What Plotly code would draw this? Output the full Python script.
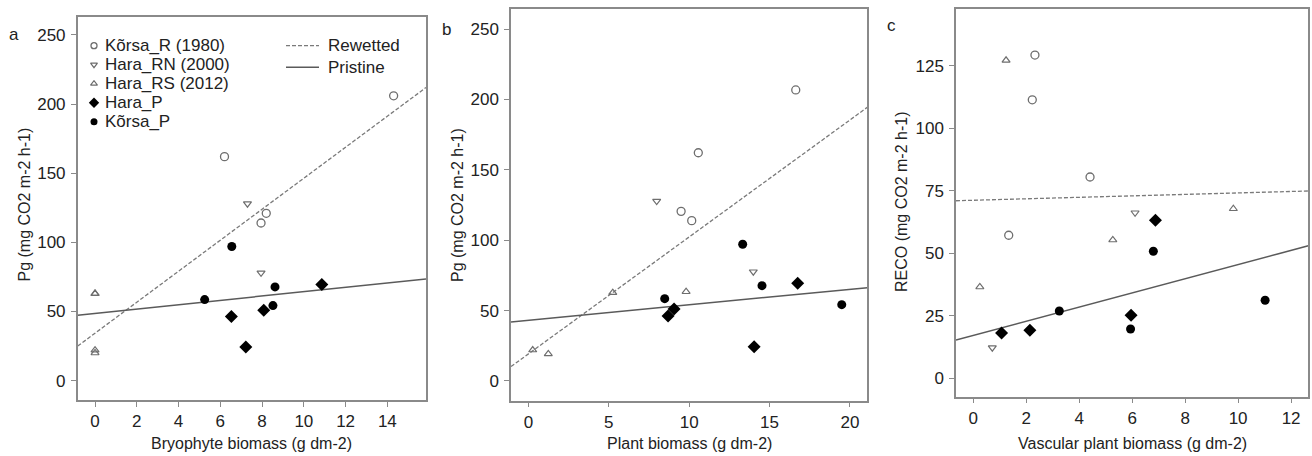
import plotly.graph_objects as go

# ---------------- data ----------------
series_names = ["Kõrsa_R (1980)", "Hara_RN (2000)", "Hara_RS (2012)", "Hara_P", "Kõrsa_P"]
line_names = ["Rewetted", "Pristine"]

# Panel a: Bryophyte biomass vs Pg
a_korsa_r_x = [14.3, 6.2, 8.2, 7.95]
a_korsa_r_y = [206, 162, 121, 114]
a_hara_rn_x = [7.3, 7.95]
a_hara_rn_y = [128, 78]
a_hara_rs_x = [0, 0, 0, 0]
a_hara_rs_y = [63, 63, 22, 20]
a_hara_p_x = [6.53, 7.22, 8.08, 10.86]
a_hara_p_y = [46.3, 24.4, 50.9, 69.5]
a_korsa_p_x = [6.55, 5.25, 8.62, 8.52]
a_korsa_p_y = [97, 58.6, 67.8, 54.3]

# Panel b: Plant biomass vs Pg
b_korsa_r_x = [16.63, 10.57, 9.50, 10.16]
b_korsa_r_y = [206.7, 162.1, 120.5, 113.9]
b_hara_rn_x = [7.98, 13.99]
b_hara_rn_y = [127.8, 77.6]
b_hara_rs_x = [0.27, 1.24, 5.25, 9.81]
b_hara_rs_y = [22.0, 19.2, 62.7, 63.4]
b_hara_p_x = [8.69, 9.06, 14.04, 16.75]
b_hara_p_y = [46.2, 51.1, 24.4, 69.4]
b_korsa_p_x = [13.33, 8.48, 14.53, 19.49]
b_korsa_p_y = [97.1, 58.5, 67.7, 54.2]

# Panel c: Vascular plant biomass vs RECO
c_korsa_r_x = [2.33, 2.23, 4.41, 1.34]
c_korsa_r_y = [129.3, 111.4, 80.5, 57.2]
c_hara_rn_x = [6.11, 0.72]
c_hara_rn_y = [66.2, 12.2]
c_hara_rs_x = [1.24, 5.27, 0.25, 9.82]
c_hara_rs_y = [127.2, 55.3, 36.5, 67.8]
c_hara_p_x = [6.88, 5.96, 2.14, 1.07]
c_hara_p_y = [63.2, 25.2, 19.2, 18.1]
c_korsa_p_x = [6.80, 11.02, 3.25, 5.94]
c_korsa_p_y = [50.8, 31.2, 26.9, 19.7]

# Fitted lines (intercept, slope)
a_rewetted_fit = [34.3, 11.21]
a_pristine_fit = [48.6, 1.577]
b_rewetted_fit = [19.2, 8.31]
b_pristine_fit = [43.1, 1.10]
c_rewetted_fit = [71.2, 0.293]
c_pristine_fit = [17.1, 2.835]

# Axis titles / ticks
x_titles = ["Bryophyte biomass (g dm-2)", "Plant biomass (g dm-2)", "Vascular plant biomass (g dm-2)"]
y_titles = ["Pg (mg CO2 m-2 h-1)", "Pg (mg CO2 m-2 h-1)", "RECO (mg CO2 m-2 h-1)"]
panel_letters = ["a", "b", "c"]
x_ticks = [[0, 2, 4, 6, 8, 10, 12, 14], [0, 5, 10, 15, 20], [0, 2, 4, 6, 8, 10, 12]]
y_ticks = [[0, 50, 100, 150, 200, 250], [0, 50, 100, 150, 200, 250], [0, 25, 50, 75, 100, 125]]

# ---------------- layout / style ----------------
W, H = 1312, 456
FONT = "Liberation Sans, Arial, sans-serif"
TXT = "#222222"
FRAME = "#8a8a8a"
GREY = "#6e6e6e"

# panel pixel boxes: left, top, right, bottom
boxes = [(77.7, 16.7, 426.0, 400.0), (511.0, 9.3, 867.3, 400.7), (956.0, 9.3, 1308.3, 396.7)]
x_ranges = [[-0.83, 15.85], [-1.08, 21.08], [-0.65, 12.65]]
y_ranges = [[-14, 263.2], [-14, 264], [-7.4, 147.6]]

styles = [
    dict(symbol="circle-open", size=8, color=GREY, line=dict(width=1.3, color=GREY)),
    dict(symbol="triangle-down-open", size=7, color=GREY, line=dict(width=1.2, color=GREY)),
    dict(symbol="triangle-up-open", size=7, color=GREY, line=dict(width=1.2, color=GREY)),
    dict(symbol="diamond", size=10, color="black", line=dict(width=0)),
    dict(symbol="circle", size=9, color="black", line=dict(width=0)),
]
line_styles = [dict(color="#7a7a7a", width=1.3, dash="4px,2px"), dict(color="#5a5a5a", width=1.5)]

panels = [
    ([(a_korsa_r_x, a_korsa_r_y), (a_hara_rn_x, a_hara_rn_y), (a_hara_rs_x, a_hara_rs_y),
      (a_hara_p_x, a_hara_p_y), (a_korsa_p_x, a_korsa_p_y)], [a_rewetted_fit, a_pristine_fit]),
    ([(b_korsa_r_x, b_korsa_r_y), (b_hara_rn_x, b_hara_rn_y), (b_hara_rs_x, b_hara_rs_y),
      (b_hara_p_x, b_hara_p_y), (b_korsa_p_x, b_korsa_p_y)], [b_rewetted_fit, b_pristine_fit]),
    ([(c_korsa_r_x, c_korsa_r_y), (c_hara_rn_x, c_hara_rn_y), (c_hara_rs_x, c_hara_rs_y),
      (c_hara_p_x, c_hara_p_y), (c_korsa_p_x, c_korsa_p_y)], [c_rewetted_fit, c_pristine_fit]),
]

fig = go.Figure()
annotations = []
layout = {}

for i, (series, fits) in enumerate(panels):
    sfx = "" if i == 0 else str(i + 1)
    xa, ya = "x" + sfx, "y" + sfx
    l, t, r, b = boxes[i]
    # fitted lines
    for j, (ic, sl) in enumerate(fits):
        xs = list(x_ranges[i])
        fig.add_trace(go.Scatter(x=xs, y=[ic + sl * v for v in xs], mode="lines",
                                 line=line_styles[j], xaxis=xa, yaxis=ya,
                                 showlegend=False, hoverinfo="skip", cliponaxis=True))
    for j, (xs, ys) in enumerate(series):
        fig.add_trace(go.Scatter(x=xs, y=ys, mode="markers", marker=styles[j], name=series_names[j],
                                 xaxis=xa, yaxis=ya, showlegend=False))
    axis_common = dict(showline=True, mirror=True, linecolor=FRAME, linewidth=1.5,
                       showgrid=False, zeroline=False, ticks="outside", ticklen=5, tickwidth=1.2,
                       tickcolor=FRAME, tickfont=dict(family=FONT, size=17, color=TXT))
    layout["xaxis" + sfx] = dict(axis_common, domain=[l / W, r / W], range=x_ranges[i],
                                 tickvals=x_ticks[i], anchor=ya)
    layout["yaxis" + sfx] = dict(axis_common, domain=[(H - b) / H, (H - t) / H], range=y_ranges[i],
                                 tickvals=y_ticks[i], anchor=xa, ticklabelstandoff=2)
    # axis titles
    annotations.append(dict(text=x_titles[i], xref="paper", yref="paper", x=(l + r) / 2 / W,
                            y=(H - 443) / H, showarrow=False, xanchor="center", yanchor="middle",
                            font=dict(family=FONT, size=16, color=TXT)))
    ytx, yty = [(23.5, 205), (457, 205), (901, 202)][i]
    annotations.append(dict(text=y_titles[i], xref="paper", yref="paper", x=ytx / W,
                            y=(H - yty) / H, showarrow=False, textangle=-90,
                            xanchor="center", yanchor="middle",
                            font=dict(family=FONT, size=16, color=TXT)))
    lx, ly = [(14, 35), (446, 29), (891, 25)][i]
    annotations.append(dict(text=panel_letters[i], xref="paper", yref="paper", x=lx / W, y=(H - ly) / H,
                            showarrow=False, xanchor="center", yanchor="middle",
                            font=dict(family=FONT, size=17, color=TXT)))

# ---------------- manual legend on an auxiliary pixel-scaled axis over panel a ----------------
l, t, r, b = boxes[0]
leg_row0, leg_step, leg_glyph_x, leg_text_x = 29.0, 19.0, 16.3, 25.0
for j, name in enumerate(series_names):
    yy = leg_row0 + leg_step * j
    fig.add_trace(go.Scatter(x=[leg_glyph_x], y=[yy], mode="markers",
                             marker=dict(styles[j], size=max(styles[j]["size"] - 2, 6)),
                             xaxis="x4", yaxis="y4", showlegend=False, hoverinfo="skip"))
    annotations.append(dict(text=name, xref="x4", yref="y4", x=leg_text_x, y=yy, showarrow=False,
                            xanchor="left", yanchor="middle", font=dict(family=FONT, size=17, color=TXT)))
line_rows = [29.0, 50.5]
for j, name in enumerate(line_names):
    fig.add_trace(go.Scatter(x=[208.3, 241.3], y=[line_rows[j]] * 2, mode="lines",
                             line=line_styles[j], xaxis="x4", yaxis="y4",
                             showlegend=False, hoverinfo="skip"))
    annotations.append(dict(text=name, xref="x4", yref="y4", x=248.5, y=line_rows[j], showarrow=False,
                            xanchor="left", yanchor="middle", font=dict(family=FONT, size=17, color=TXT)))

hidden = dict(visible=False, showgrid=False, zeroline=False, fixedrange=True)
layout["xaxis4"] = dict(hidden, domain=[l / W, r / W], range=[0, r - l], anchor="y4", overlaying="x")
layout["yaxis4"] = dict(hidden, domain=[(H - b) / H, (H - t) / H], range=[b - t, 0], anchor="x4",
                        overlaying="y")

fig.update_layout(width=W, height=H, margin=dict(l=0, r=0, t=0, b=0),
                  paper_bgcolor="white", plot_bgcolor="white", showlegend=False,
                  annotations=annotations, font=dict(family=FONT, color=TXT), **layout)

fig.write_html("out.html", config={"displayModeBar": False},
               post_script="document.body.style.margin='0';document.body.style.overflow='hidden';")
